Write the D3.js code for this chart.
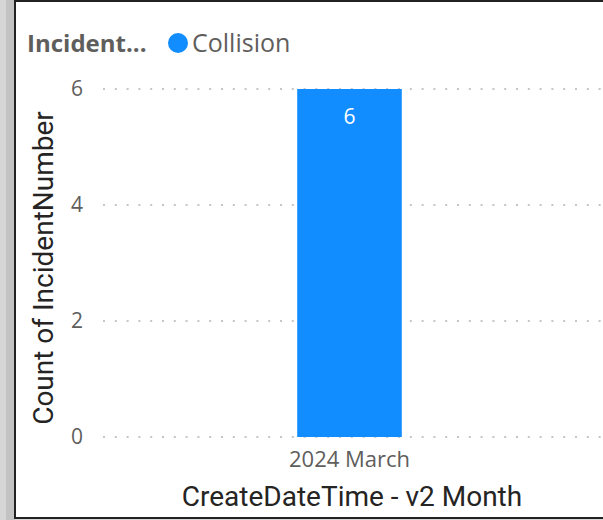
<!DOCTYPE html>
<html>
<head>
<meta charset="utf-8">
<script src="https://cdn.jsdelivr.net/npm/d3@7"></script>
<style>
  html, body { margin: 0; padding: 0; background: #d6d6d6; }
  svg { display: block; }
</style>
</head>
<body>
<script>
const categories = ["2024 March"];
const counts = [6];
const yTicks = [0, 2, 4, 6];
const legendTitle = "Incident...";
const seriesName = "Collision";
const xTitle = "CreateDateTime - v2 Month";
const yTitle = "Count of IncidentNumber";

const width = 603;
const height = 520;
const blue = "#118DFF";

const svg = d3
  .select("body")
  .append("svg")
  .attr("width", width)
  .attr("height", height);

// page edge + visual frame
svg.append("rect").attr("x", 6).attr("y", 0).attr("width", 9).attr("height", height).attr("fill", "#c3c3c3");
svg.append("rect").attr("x", 15).attr("y", 1).attr("width", width).attr("height", 517)
  .attr("fill", "#fff").attr("stroke", "#222").attr("stroke-width", 2);

const yScale = d3.scaleLinear().domain([0, 6]).range([437, 89]);
const xScale = d3.scaleBand().domain(categories).range([103, 596]).padding(0.65);

// gridlines
svg
  .append("g")
  .selectAll("line")
  .data(yTicks)
  .enter()
  .append("line")
  .attr("x1", 103)
  .attr("x2", width)
  .attr("y1", (d) => yScale(d))
  .attr("y2", (d) => yScale(d))
  .attr("stroke", "#c8c6c4")
  .attr("stroke-width", 2)
  .attr("stroke-dasharray", "2,9.8");

const yAxis = d3
  .axisLeft(yScale)
  .tickValues(yTicks)
  .tickFormat(d3.format("d"))
  .tickSize(0)
  .tickPadding(0);
svg
  .append("g")
  .attr("transform", "translate(83,0)")
  .call(yAxis)
  .call((g) => g.select(".domain").remove())
  .selectAll("text")
  .attr("fill", "#605e5c")
  .style("font-family", "'Open Sans', sans-serif")
  .style("font-size", "21px");

const xAxis = d3.axisBottom(xScale).tickSize(0).tickPadding(0);
svg
  .append("g")
  .attr("transform", "translate(0,451)")
  .call(xAxis)
  .call((g) => g.select(".domain").remove())
  .selectAll("text")
  .attr("fill", "#605e5c")
  .style("font-family", "'Open Sans', sans-serif")
  .style("font-size", "22px");

// bars
svg
  .selectAll("rect.bar")
  .data(counts)
  .enter()
  .append("rect")
  .attr("class", "bar")
  .attr("x", (d, i) => xScale(categories[i]))
  .attr("y", (d) => yScale(d))
  .attr("width", xScale.bandwidth())
  .attr("height", (d) => yScale(0) - yScale(d))
  .attr("fill", blue);

svg
  .selectAll("text.label")
  .data(counts)
  .enter()
  .append("text")
  .attr("class", "label")
  .attr("x", (d, i) => xScale(categories[i]) + xScale.bandwidth() / 2)
  .attr("y", (d) => yScale(d) + 35)
  .attr("text-anchor", "middle")
  .attr("fill", "#fff")
  .style("font-family", "'Open Sans', sans-serif")
  .style("font-size", "21px")
  .text((d) => d);

// axis titles
svg
  .append("text")
  .attr("x", 352)
  .attr("y", 506)
  .attr("text-anchor", "middle")
  .attr("fill", "#252423")
  .style("font-family", "Roboto, sans-serif")
  .style("font-size", "28px")
  .text(xTitle);

svg
  .append("text")
  .attr("transform", "translate(53,268) rotate(-90)")
  .attr("text-anchor", "middle")
  .attr("fill", "#252423")
  .style("font-family", "Roboto, sans-serif")
  .style("font-size", "28px")
  .text(yTitle);

// legend
const legend = svg.append("g");
legend
  .append("text")
  .attr("x", 27)
  .attr("y", 52)
  .attr("fill", "#605e5c")
  .style("font-family", "'Open Sans', sans-serif")
  .style("font-size", "24px")
  .style("font-weight", "bold")
  .text(legendTitle);
legend.append("circle").attr("cx", 178).attr("cy", 43).attr("r", 10).attr("fill", blue);
legend
  .append("text")
  .attr("x", 192)
  .attr("y", 52)
  .attr("fill", "#605e5c")
  .style("font-family", "'Open Sans', sans-serif")
  .style("font-size", "25px")
  .text(seriesName);
</script>
</body>
</html>
